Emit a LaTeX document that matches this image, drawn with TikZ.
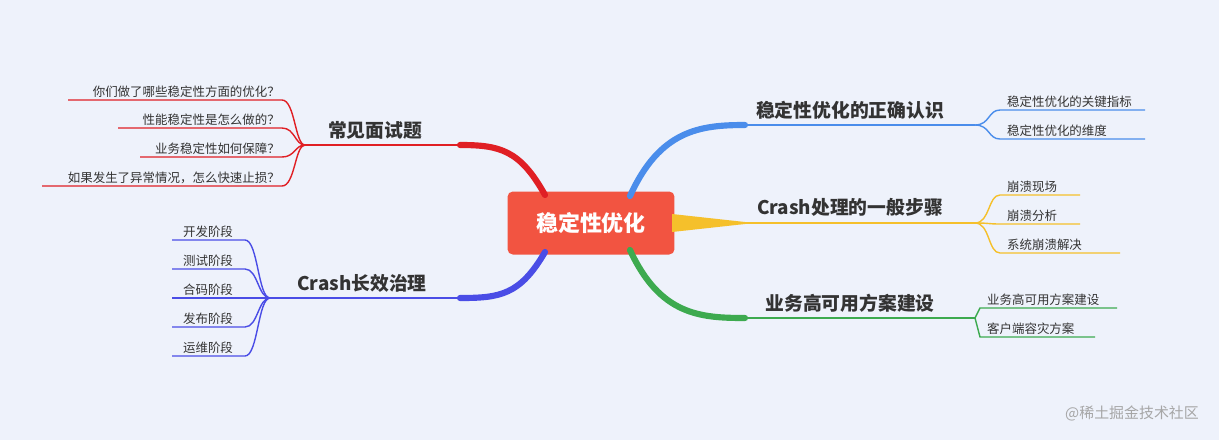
\documentclass[tikz,border=0pt]{standalone}
\usepackage{fontspec}
\setmainfont{Noto Sans CJK SC}
\definecolor{bg}{HTML}{EEF2FB}
\definecolor{cred}{HTML}{F25441}
\definecolor{bblue}{HTML}{4A8DEB}
\definecolor{byel}{HTML}{F5C02B}
\definecolor{bgreen}{HTML}{3DAA4F}
\definecolor{bredl}{HTML}{E01F24}
\definecolor{bpurp}{HTML}{4A4DE6}
\begin{document}
\begin{tikzpicture}[x=0.02cm,y=-0.02cm,
 main/.style={font=\bfseries\fontsize{10.7}{12}\selectfont,text=black!80,anchor=south,inner sep=1pt},
 sub/.style={font=\fontsize{7.1}{8}\selectfont,text=black!80,inner sep=1pt},
 thick1/.style={line width=1.4pt},
 fat/.style={line width=3.5pt,line cap=round}]
\fill[bg] (0,0) rectangle (1219,440);
\useasboundingbox (0,0) rectangle (1219,440);
% central node
\node[fill=cred,rounded corners=3pt,text=white,font=\bfseries\fontsize{12.5}{14}\selectfont,minimum width=3.34cm,minimum height=1.26cm] (c) at (591,223) {稳定性优化};
% right junctions
\coordinate (r1a) at (745,125); \coordinate (r1b) at (975,125);
\coordinate (r2a) at (745,223); \coordinate (r2b) at (975,223);
\coordinate (r3a) at (745,318); \coordinate (r3b) at (975,318);
\coordinate (l1a) at (460,145); \coordinate (l1b) at (305,145);
\coordinate (l2a) at (460,298); \coordinate (l2b) at (270,298);
% branches
\draw[bblue,fat] (630,196) .. controls (660,130) and (700,125) .. (r1a);
\draw[bblue,thick1] (r1a) -- (r1b);
\fill[byel] (672,214) -- (745,222) -- (745,224) -- (672,232) -- cycle;
\draw[byel,thick1] (r2a) -- (r2b);
\draw[bgreen,fat] (630,250) .. controls (660,315) and (700,318) .. (r3a);
\draw[bgreen,thick1] (r3a) -- (r3b);
\draw[bredl,fat] (545,195) .. controls (520,150) and (500,145) .. (l1a);
\draw[bredl,thick1] (l1a) -- (l1b);
\draw[bpurp,fat] (545,252) .. controls (520,295) and (500,298) .. (l2a);
\draw[bpurp,thick1] (l2a) -- (l2b);
\node[main] (t1) at (850,121) {稳定性优化的正确认识};
\node[main] (t2) at (850,219) {Crash处理的一般步骤};
\node[main] (t3) at (850,314) {业务高可用方案建设};
\node[main] (t4) at (375,141) {常见面试题};
\node[main] (t5) at (362,294) {Crash长效治理};
% right subs
\foreach \y/\e/\t [count=\i] in {110/1145/稳定性优化的关键指标,139/1145/稳定性优化的维度}{
 \coordinate (a1\i) at (1000,\y); \coordinate (b1\i) at (\e,\y);
 \draw[bblue,line width=0.8pt] (r1b) .. controls (990,125) and (988,\y) .. (a1\i) -- (b1\i);
 \node[sub,anchor=south west] (s1\i) at (1005,\y) {\t};}
\foreach \y/\e/\t [count=\i] in {195/1080/崩溃现场,224/1080/崩溃分析,253/1120/系统崩溃解决}{
 \coordinate (a2\i) at (1000,\y); \coordinate (b2\i) at (\e,\y);
 \draw[byel,line width=0.8pt] (r2b) .. controls (990,223) and (988,\y) .. (a2\i) -- (b2\i);
 \node[sub,anchor=south west] (s2\i) at (1005,\y) {\t};}
\foreach \y/\e/\t [count=\i] in {308/1117/业务高可用方案建设,337/1095/客户端容灾方案}{
 \coordinate (a3\i) at (980,\y); \coordinate (b3\i) at (\e,\y);
 \draw[bgreen,line width=0.8pt] (r3b) -- (a3\i) -- (b3\i);
 \node[sub,anchor=south west] (s3\i) at (985,\y) {\t};}
% left subs
\foreach \y/\e/\t [count=\i] in {100/68/你们做了哪些稳定性方面的优化？,128/118/性能稳定性是怎么做的？,157/140/业务稳定性如何保障？,186/42/{如果发生了异常情况，怎么快速止损？}}{
 \coordinate (a4\i) at (282,\y); \coordinate (b4\i) at (\e,\y);
 \draw[bredl,line width=0.8pt] (l1b) .. controls (295,145) and (295,\y) .. (a4\i) -- (b4\i);
 \node[sub,anchor=south east] (s4\i) at (282,\y) {\t};}
\foreach \y/\t [count=\i] in {240/开发阶段,269/测试阶段,298/合码阶段,327/发布阶段,356/运维阶段}{
 \coordinate (a5\i) at (245,\y); \coordinate (b5\i) at (172,\y);
 \draw[bpurp,line width=0.8pt] (l2b) .. controls (258,298) and (258,\y) .. (a5\i) -- (b5\i);
 \node[sub,anchor=south] (s5\i) at (208,\y) {\t};}
\node[font=\fontsize{8.5}{10}\selectfont,text=black!35,anchor=east] (wm) at (1205,413) {@稀土掘金技术社区};
\end{tikzpicture}
\end{document}
